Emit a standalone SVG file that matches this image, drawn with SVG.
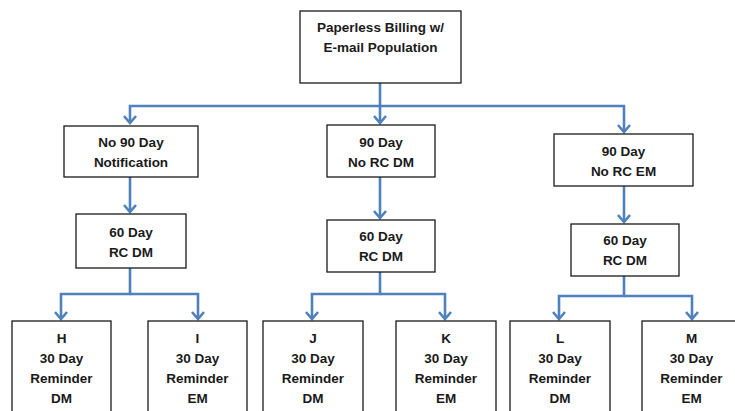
<svg xmlns="http://www.w3.org/2000/svg" width="735" height="411" viewBox="0 0 735 411">
<style>
.box{fill:#fff;stroke:#1a1a1a;stroke-width:1.3}
.t{font-family:"Liberation Sans",Arial,sans-serif;font-weight:bold;font-size:13.5px;fill:#1a1a1a;text-anchor:middle}
.c{fill:none;stroke:#4f81bd;stroke-width:2.6}
.a{marker-end:url(#arr)}
</style>
<defs>
<marker id="arr" markerUnits="userSpaceOnUse" markerWidth="20" markerHeight="20" viewBox="-10 -10 20 20" refX="0" refY="0" orient="auto">
<path d="M-7,-6 L0,0 L-7,6" fill="none" stroke="#4f81bd" stroke-width="2.6" stroke-linejoin="miter"/>
</marker>
</defs>
<rect width="735" height="411" fill="#fff"/>
<g id="connectors">
<path class="c" d="M380,83 V106"/>
<path class="c a" d="M380,106 H130 V123"/>
<path class="c a" d="M380,106 V123"/>
<path class="c a" d="M380,106 H624 V132"/>
<path class="c a" d="M130,177 V212"/>
<path class="c a" d="M380,177 V218"/>
<path class="c a" d="M624,186 V222"/>
<path class="c a" d="M130,268 V294 H61 V319"/>
<path class="c a" d="M130,294 H198 V319"/>
<path class="c a" d="M380,272 V294 H312 V319"/>
<path class="c a" d="M380,294 H445 V319"/>
<path class="c a" d="M624,276 V296 H559 V319"/>
<path class="c a" d="M624,296 H692 V319"/>
</g>
<g id="root"><rect class="box" x="300" y="11" width="161" height="72"/>
<text class="t" x="380.5" y="32">Paperless Billing w/</text><text class="t" x="380.5" y="52">E-mail Population</text></g>
<g id="n90"><rect class="box" x="64" y="126" width="134" height="51"/>
<text class="t" x="131" y="147">No 90 Day</text><text class="t" x="131" y="167">Notification</text></g>
<g id="rcdm90"><rect class="box" x="327" y="125" width="108" height="52"/>
<text class="t" x="381" y="147">90 Day</text><text class="t" x="381" y="167">No RC DM</text></g>
<g id="rcem90"><rect class="box" x="554" y="134" width="139" height="52"/>
<text class="t" x="623.5" y="156">90 Day</text><text class="t" x="623.5" y="176">No RC EM</text></g>
<g id="l60"><rect class="box" x="76" y="214" width="110" height="54"/>
<text class="t" x="131" y="237">60 Day</text><text class="t" x="131" y="257">RC DM</text></g>
<g id="m60"><rect class="box" x="327" y="220" width="108" height="52"/>
<text class="t" x="381" y="241">60 Day</text><text class="t" x="381" y="261">RC DM</text></g>
<g id="r60"><rect class="box" x="571" y="224" width="108" height="52"/>
<text class="t" x="625" y="245">60 Day</text><text class="t" x="625" y="265">RC DM</text></g>
<g id="H"><rect class="box" x="12" y="321" width="99" height="100"/>
<text class="t" x="61.5" y="343">H</text><text class="t" x="61.5" y="363">30 Day</text><text class="t" x="61.5" y="383">Reminder</text><text class="t" x="61.5" y="403">DM</text></g>
<g id="I"><rect class="box" x="148" y="321" width="99" height="100"/>
<text class="t" x="197.5" y="343">I</text><text class="t" x="197.5" y="363">30 Day</text><text class="t" x="197.5" y="383">Reminder</text><text class="t" x="197.5" y="403">EM</text></g>
<g id="J"><rect class="box" x="263" y="321" width="100" height="100"/>
<text class="t" x="313" y="343">J</text><text class="t" x="313" y="363">30 Day</text><text class="t" x="313" y="383">Reminder</text><text class="t" x="313" y="403">DM</text></g>
<g id="K"><rect class="box" x="396" y="321" width="100" height="100"/>
<text class="t" x="446" y="343">K</text><text class="t" x="446" y="363">30 Day</text><text class="t" x="446" y="383">Reminder</text><text class="t" x="446" y="403">EM</text></g>
<g id="L"><rect class="box" x="510" y="321" width="100" height="100"/>
<text class="t" x="560" y="343">L</text><text class="t" x="560" y="363">30 Day</text><text class="t" x="560" y="383">Reminder</text><text class="t" x="560" y="403">DM</text></g>
<g id="M"><rect class="box" x="642" y="321" width="100" height="100"/>
<text class="t" x="691.5" y="343">M</text><text class="t" x="691.5" y="363">30 Day</text><text class="t" x="691.5" y="383">Reminder</text><text class="t" x="691.5" y="403">EM</text></g>
</svg>
